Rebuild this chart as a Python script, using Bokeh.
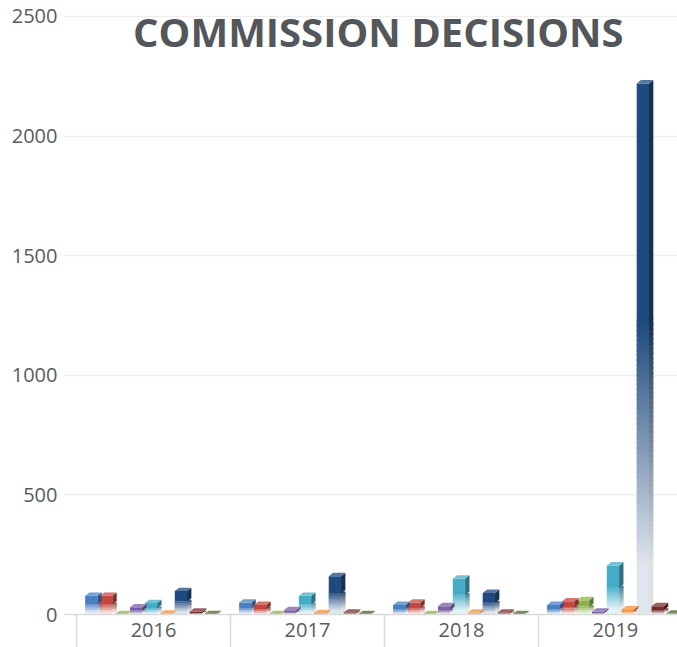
from bokeh.plotting import figure
from bokeh.models import ColumnDataSource, FixedTicker, Label, Range1d
from bokeh.embed import file_html
from bokeh.resources import INLINE

# ---- data ----
years = ["2016", "2017", "2018", "2019"]
s_blue = [78, 50, 40, 40]
s_red = [78, 40, 50, 55]
s_green = [2, 2, 2, 60]
s_purple = [30, 18, 35, 12]
s_cyan = [48, 78, 150, 205]
s_orange = [4, 6, 8, 22]
s_navy = [98, 160, 90, 2220]
s_maroon = [12, 8, 8, 35]
s_dkgreen = [2, 2, 2, 4]
series = [s_blue, s_red, s_green, s_purple, s_cyan, s_orange, s_navy, s_maroon, s_dkgreen]
y_ticks = [0, 500, 1000, 1500, 2000, 2500]

# ---- style ----
colors = ["#4a7fc4", "#c4463f", "#8db24c", "#7a5fa8", "#45acc8", "#f0923e", "#1f4a7f", "#772c2a", "#4f6228"]
text_col = "#585c60"


def mix(c, other, t):
    c = c.lstrip("#"); o = other.lstrip("#")
    a = [int(c[i:i + 2], 16) for i in (0, 2, 4)]
    b = [int(o[i:i + 2], 16) for i in (0, 2, 4)]
    r = [round(a[j] * (1 - t) + b[j] * t) for j in range(3)]
    return "#%02x%02x%02x" % tuple(r)


p = figure(width=677, height=647, output_backend="svg", toolbar_location=None,
           x_range=Range1d(-0.078, 3.903), y_range=Range1d(0, 2533),
           min_border_left=64, min_border_right=0, min_border_top=8, min_border_bottom=33)
p.outline_line_color = None
p.xgrid.grid_line_color = None
p.ygrid.grid_line_color = "#eeeeee"
p.ygrid.grid_line_width = 1.5
p.ygrid.ticker = FixedTicker(ticks=y_ticks)

p.yaxis.ticker = FixedTicker(ticks=y_ticks)
p.yaxis.axis_line_color = None
p.yaxis.major_tick_line_color = None
p.yaxis.minor_tick_line_color = None
p.yaxis.major_label_text_color = text_col
p.yaxis.major_label_text_font = "Open Sans"
p.yaxis.major_label_text_font_size = "20px"
p.yaxis.major_label_standoff = 1

p.xaxis.ticker = FixedTicker(ticks=[i + 0.5 for i in range(len(years))],
                             minor_ticks=list(range(len(years) + 1)))
p.xaxis.major_label_overrides = {i + 0.5: y for i, y in enumerate(years)}
p.xaxis.axis_line_color = "#d9d9d9"
p.xaxis.axis_line_width = 1.5
p.xaxis.major_tick_line_color = None
p.xaxis.major_tick_out = 0
p.xaxis.major_tick_in = 0
p.xaxis.minor_tick_line_color = "#d9d9d9"
p.xaxis.minor_tick_line_width = 1.5
p.xaxis.minor_tick_out = 33
p.xaxis.minor_tick_in = 0
p.xaxis.major_label_text_color = text_col
p.xaxis.major_label_text_font = "Open Sans"
p.xaxis.major_label_text_font_size = "20px"
p.xaxis.major_label_standoff = -25

front_w = 0.08
depth = 0.028
top_h = 14.0
K = 50
f_hi = 0.55
f_lo = 0.09
w_lo = 0.86

bx, bw, bt, bb, bc = [], [], [], [], []
pxs, pys, pc = [], [], []
for si, vals in enumerate(series):
    base = colors[si]
    side = mix(base, "#000000", 0.35)
    topc = mix(base, "#ffffff", 0.25)
    for yi, v in enumerate(vals):
        xc = yi + 0.11 + si * 0.097
        x0 = xc - 0.054
        x1 = x0 + front_w
        # bottom whitish part
        bx.append((x0 + x1) / 2); bw.append(front_w); bb.append(0); bt.append(v * f_lo * 1.05); bc.append(mix(base, "#ffffff", w_lo))
        bx.append(x1 + depth / 2); bw.append(depth); bb.append(top_h * 0.5); bt.append(v * f_lo * 1.05 + top_h * 0.5); bc.append(mix(side, "#ffffff", w_lo))
        # gradient fade (front and side), opaque blended colours
        for k in range(K):
            b0 = v * (f_lo + (f_hi - f_lo) * k / K)
            t0 = v * (f_lo + (f_hi - f_lo) * (k + 1.6) / K)
            t = w_lo * (1 - (k + 0.5) / K)
            bx.append((x0 + x1) / 2); bw.append(front_w); bb.append(b0); bt.append(t0); bc.append(mix(base, "#ffffff", t))
            bx.append(x1 + depth / 2); bw.append(depth); bb.append(b0 + top_h * 0.5); bt.append(t0 + top_h * 0.5); bc.append(mix(side, "#ffffff", t))
        bx.append((x0 + x1) / 2); bw.append(front_w); bb.append(v * f_hi); bt.append(v); bc.append(base)
        # side face
        pxs.append([x1, x1 + depth, x1 + depth, x1])
        pys.append([v * f_hi, v * f_hi + top_h, v + top_h, v])
        pc.append(side)
        # top face
        pxs.append([x0, x0 + depth, x1 + depth, x1])
        pys.append([v, v + top_h, v + top_h, v])
        pc.append(topc)

src = ColumnDataSource(dict(x=bx, w=bw, top=bt, bottom=bb, c=bc))
p.vbar(x="x", width="w", top="top", bottom="bottom", fill_color="c",
       line_color=None, source=src)
psrc = ColumnDataSource(dict(xs=pxs, ys=pys, c=pc))
p.patches(xs="xs", ys="ys", fill_color="c", line_color=None, source=psrc)

title = Label(x=1.96, y=2437, text="COMMISSION DECISIONS", text_align="center",
              text_baseline="middle", text_font="Open Sans", text_font_style="bold",
              text_font_size="40px", text_color="#53575b")
p.add_layout(title)

open("out.html", "w").write(file_html(p, INLINE))
